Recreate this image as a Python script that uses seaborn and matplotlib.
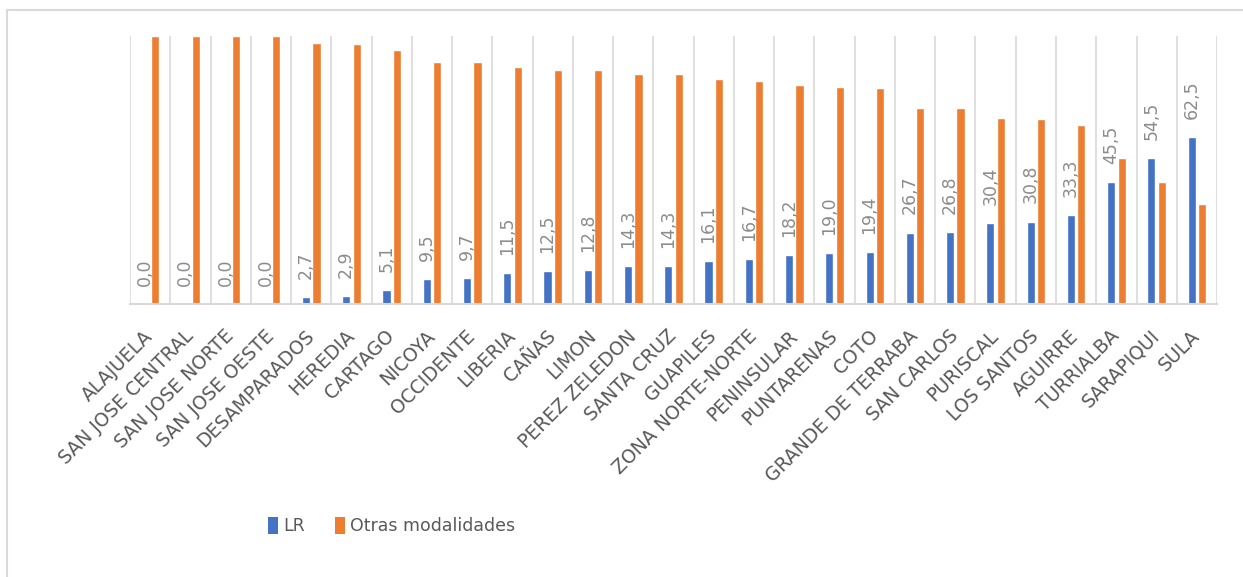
import pandas as pd
import matplotlib.pyplot as plt
import seaborn as sns
from matplotlib.patches import Patch
from matplotlib.lines import Line2D

regiones = ["ALAJUELA", "SAN JOSE CENTRAL", "SAN JOSE NORTE", "SAN JOSE OESTE",
            "DESAMPARADOS", "HEREDIA", "CARTAGO", "NICOYA", "OCCIDENTE", "LIBERIA",
            "CAÑAS", "LIMON", "PEREZ ZELEDON", "SANTA CRUZ", "GUAPILES",
            "ZONA NORTE-NORTE", "PENINSULAR", "PUNTARENAS", "COTO",
            "GRANDE DE TERRABA", "SAN CARLOS", "PURISCAL", "LOS SANTOS",
            "AGUIRRE", "TURRIALBA", "SARAPIQUI", "SULA"]
lr = [0.0, 0.0, 0.0, 0.0, 2.7, 2.9, 5.1, 9.5, 9.7, 11.5, 12.5, 12.8, 14.3, 14.3,
      16.1, 16.7, 18.2, 19.0, 19.4, 26.7, 26.8, 30.4, 30.8, 33.3, 45.5, 54.5, 62.5]
otras = [100.0, 100.0, 100.0, 100.0, 97.3, 97.1, 94.9, 90.5, 90.3, 88.5, 87.5, 87.2,
         85.7, 85.7, 83.9, 83.3, 81.8, 81.0, 80.6, 73.3, 73.2, 69.6, 69.2, 66.7,
         54.5, 45.5, 37.5]
series = ["LR", "Otras modalidades"]
colores = ["#4472C4", "#ED7D31"]

df = pd.DataFrame({
    "region": regiones * 2,
    "valor": lr + otras,
    "serie": [series[0]] * len(regiones) + [series[1]] * len(regiones),
})

sns.set_theme(style="white")
plt.rcParams["font.family"] = ["DejaVu Sans"]

fig = plt.figure(figsize=(12.43, 5.77), dpi=100)
ax = fig.add_axes([0.1046, 0.473, 0.8745, 0.4645])

sns.barplot(data=df, x="region", y="valor", hue="serie", order=regiones,
            hue_order=series, palette=colores, saturation=1, width=0.52,
            gap=0.22, legend=False, ax=ax)

etiquetas = [f"{v:.1f}".replace(".", ",") for v in lr]
ax.bar_label(ax.containers[0], labels=etiquetas, rotation=90, padding=13,
             color="#8c8c8c", fontsize=12.5)

ax.set_ylim(0, 100)
ax.set_xlim(-0.5, len(regiones) - 0.5)
ax.set_xlabel("")
ax.set_ylabel("")
ax.set_yticks([])
ax.set_xticks(range(len(regiones)))
ax.set_xticks([i - 0.5 for i in range(len(regiones) + 1)], minor=True)
ax.grid(which="minor", axis="x", color="#d9d9d9", linewidth=1.2)
ax.set_axisbelow(True)
ax.tick_params(axis="x", which="both", length=0, pad=21)
ax.set_xticklabels(regiones, rotation=45, ha="right", va="center",
                   rotation_mode="anchor", color="#595959", fontsize=13.5)
for s in ["left", "right", "top"]:
    ax.spines[s].set_visible(False)
ax.spines["bottom"].set_color("#d9d9d9")
ax.spines["bottom"].set_linewidth(1.5)

handles = [Patch(facecolor=c, edgecolor="none") for c in colores]
ax.legend(handles, series, loc="center", bbox_to_anchor=(0.315, 0.088),
          bbox_transform=fig.transFigure, ncol=2, frameon=False, fontsize=12.5,
          handlelength=0.6, handleheight=1.1, handletextpad=0.3,
          columnspacing=1.7, labelcolor="#595959")

# marco exterior del grafico (recortado)
fig.add_artist(Line2D([7 / 1243, 7 / 1243], [0, 1 - 10 / 577],
                      transform=fig.transFigure, color="#d9d9d9", linewidth=1.5))
fig.add_artist(Line2D([7 / 1243, 1], [1 - 10 / 577, 1 - 10 / 577],
                      transform=fig.transFigure, color="#d9d9d9", linewidth=1.5))

plt.savefig("out.png", dpi=100)
